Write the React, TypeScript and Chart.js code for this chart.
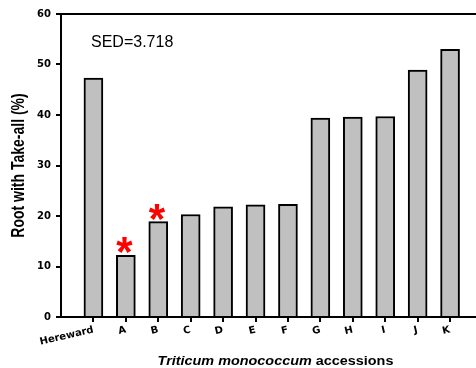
import React, { useEffect, useRef } from 'react';
import { Chart, registerables } from 'chart.js';

Chart.register(...registerables);

const categories = ['Hereward', 'A', 'B', 'C', 'D', 'E', 'F', 'G', 'H', 'I', 'J', 'K'];
const rootTakeAll = [47.3, 12.2, 18.9, 20.3, 21.8, 22.2, 22.3, 39.4, 39.6, 39.7, 48.9, 53.0];
const yTicks = [0, 10, 20, 30, 40, 50, 60];
const starred = ['A', 'B'];
const sedLabel = 'SED=3.718';
const xTitleItalic = 'Triticum monococcum';
const xTitleRest = ' accessions';
const yTitle = 'Root with Take-all (%)';

const ARIAL = '"Liberation Sans", Arial, Helvetica, sans-serif';
const TICK_FONT = { family: '"DejaVu Sans", sans-serif', weight: 'bold' as const, size: 10 };

const decorPlugin = {
  id: 'decor',
  afterDraw(chart: any) {
    const ctx = chart.ctx as CanvasRenderingContext2D;
    const { left, right, top, bottom } = chart.chartArea;
    const xs = chart.scales.x;
    const ys = chart.scales.y;
    ctx.save();
    // top frame line
    ctx.strokeStyle = '#000';
    ctx.lineWidth = 2;
    ctx.beginPath();
    ctx.moveTo(left - 1, top);
    ctx.lineTo(right, top);
    ctx.stroke();

    // SED annotation
    ctx.fillStyle = '#000';
    ctx.font = `16px ${ARIAL}`;
    ctx.textAlign = 'left';
    ctx.textBaseline = 'alphabetic';
    ctx.fillText(sedLabel, left + 30, top + 33);

    // red asterisks
    ctx.fillStyle = '#ff0000';
    ctx.font = `bold 42px ${ARIAL}`;
    ctx.textAlign = 'left';
    starred.forEach((c) => {
      const i = categories.indexOf(c);
      if (i < 0) return;
      const cx = xs.getPixelForValue(i) - 1;
      const barTop = ys.getPixelForValue(rootTakeAll[i]);
      const m = ctx.measureText('*');
      const gx = cx - (m.actualBoundingBoxRight - m.actualBoundingBoxLeft) / 2;
      const gy = barTop - 2 - m.actualBoundingBoxDescent;
      ctx.fillText('*', gx, gy);
    });

    // x title (mixed styles)
    ctx.fillStyle = '#000';
    const sx = 1.2;
    const f1 = `italic bold 12px ${ARIAL}`;
    const f2 = `bold 12px ${ARIAL}`;
    ctx.font = f1;
    const w1 = ctx.measureText(xTitleItalic).width;
    ctx.font = f2;
    const w2 = ctx.measureText(xTitleRest).width;
    const total = (w1 + w2) * sx;
    const cxTitle = (left + Math.min(right, chart.width)) / 2 + 7;
    ctx.save();
    ctx.translate(cxTitle - total / 2, 365);
    ctx.scale(sx, 1);
    ctx.textAlign = 'left';
    ctx.textBaseline = 'alphabetic';
    ctx.font = f1;
    ctx.fillText(xTitleItalic, 0, 0);
    ctx.font = f2;
    ctx.fillText(xTitleRest, w1, 0);
    ctx.restore();

    // y title
    ctx.save();
    ctx.translate(24, (top + bottom) / 2);
    ctx.scale(1.25, 1);
    ctx.rotate(-Math.PI / 2);
    ctx.font = `bold 14px ${ARIAL}`;
    ctx.textAlign = 'center';
    ctx.textBaseline = 'alphabetic';
    ctx.fillText(yTitle, 0, 0);
    ctx.restore();

    ctx.restore();
  },
};

export default function App() {
  const canvasRef = useRef<HTMLCanvasElement | null>(null);

  useEffect(() => {
    if (!canvasRef.current) return;
    const chart = new Chart(canvasRef.current, {
      type: 'bar',
      data: {
        datasets: [
          {
            data: categories.map((_, i) => ({ x: i, y: rootTakeAll[i] })),
            backgroundColor: '#c0c0c0',
            borderColor: '#000000',
            borderWidth: 2,
            barThickness: 19,
            borderSkipped: 'start',
          } as any,
        ],
      },
      options: {
        animation: false,
        responsive: true,
        maintainAspectRatio: false,
        layout: { padding: { top: 14, left: 0, right: 0, bottom: 0 } },
        plugins: {
          legend: { display: false },
          tooltip: { enabled: false },
          title: { display: false },
        },
        scales: {
          x: {
            type: 'linear',
            min: -1,
            max: 11.8,
            offset: false,
            afterBuildTicks: (s: any) => {
              s.ticks = categories.map((_, i) => ({ value: i }));
            },
            afterFit: (s: any) => {
              s.height = 51;
            },
            grid: { offset: false, drawOnChartArea: false, drawTicks: true, tickLength: 5, color: '#000', lineWidth: 2 },
            border: { display: true, color: '#000', width: 2 },
            ticks: {
              autoSkip: false,
              minRotation: 13,
              maxRotation: 13,
              padding: 2,
              color: '#000',
              font: TICK_FONT,
              callback: (v: any) => categories[Number(v)] ?? '',
            },
          },
          y: {
            type: 'linear',
            min: 0,
            max: 60,
            afterBuildTicks: (s: any) => {
              s.ticks = yTicks.map((v) => ({ value: v }));
            },
            afterFit: (s: any) => {
              s.width = 61;
            },
            grid: { drawOnChartArea: false, drawTicks: true, tickLength: 5, color: '#000', lineWidth: 2 },
            border: { display: true, color: '#000', width: 2 },
            ticks: {
              padding: 5,
              color: '#000',
              font: TICK_FONT,
              callback: (v: any) => String(v),
            },
          },
        },
      } as any,
      plugins: [decorPlugin],
    });
    return () => chart.destroy();
  }, []);

  return (
    <div style={{ position: 'fixed', left: 0, top: 0, width: 476, height: 368, background: '#fff' }}>
      <canvas ref={canvasRef} />
    </div>
  );
}
